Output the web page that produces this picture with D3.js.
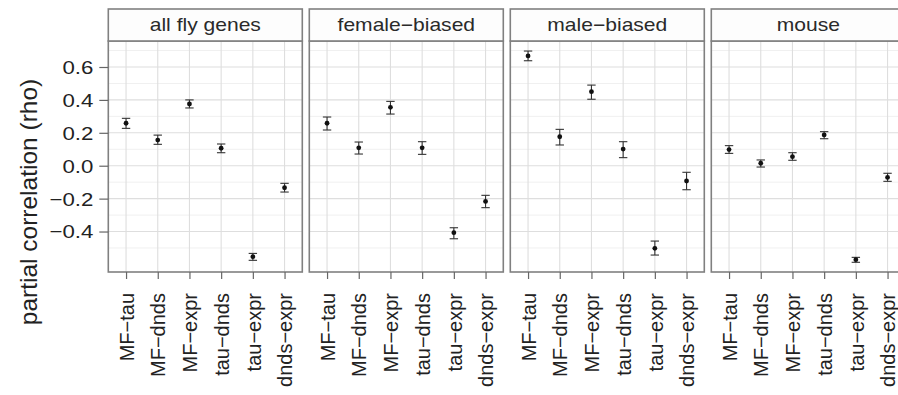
<!DOCTYPE html>
<meta charset="utf-8" />
<script src="https://d3js.org/d3.v7.min.js"></script>
<style>
  body { margin: 0; background: #fff; }
  text { font-family: "Liberation Sans", Arial, Helvetica, sans-serif; }
</style>
<body>
  <div id="my_dataviz"></div>
  <script>
    // facets and pairs
    const panels = ["all fly genes", "female\u2212biased", "male\u2212biased", "mouse"];
    const pairs = ["MF\u2212tau", "MF\u2212dnds", "MF\u2212expr", "tau\u2212dnds", "tau\u2212expr", "dnds\u2212expr"];

    // partial correlation (rho) with lower / upper bounds, one array per panel
    const allFlyRho = [0.258, 0.156, 0.375, 0.106, -0.553, -0.134];
    const allFlyLo = [0.227, 0.13, 0.351, 0.079, -0.575, -0.16];
    const allFlyHi = [0.288, 0.186, 0.4, 0.132, -0.533, -0.107];

    const femaleRho = [0.258, 0.109, 0.355, 0.109, -0.407, -0.217];
    const femaleLo = [0.217, 0.071, 0.314, 0.069, -0.444, -0.255];
    const femaleHi = [0.296, 0.144, 0.391, 0.146, -0.377, -0.18];

    const maleRho = [0.667, 0.176, 0.45, 0.101, -0.502, -0.093];
    const maleLo = [0.638, 0.126, 0.404, 0.049, -0.543, -0.146];
    const maleHi = [0.697, 0.221, 0.49, 0.146, -0.458, -0.04];

    const mouseRho = [0.098, 0.015, 0.055, 0.187, -0.571, -0.071];
    const mouseLo = [0.075, -0.008, 0.033, 0.164, -0.587, -0.095];
    const mouseHi = [0.122, 0.035, 0.079, 0.207, -0.557, -0.046];

    const yTicks = [-0.4, -0.2, 0.0, 0.2, 0.4, 0.6];
    const yMinor = [-0.5, -0.3, -0.1, 0.1, 0.3, 0.5, 0.7];

    const series = [
      [allFlyRho, allFlyLo, allFlyHi],
      [femaleRho, femaleLo, femaleHi],
      [maleRho, maleLo, maleHi],
      [mouseRho, mouseLo, mouseHi]
    ];

    var W = 898, H = 395;
    var panelLeft = 108.3, panelW = 194, panelStep = 201;
    var stripTop = 9, panelTop = 41, panelBottom = 272;
    var border = "#808080";
    var stretch = 1.17; // horizontal text in the reference is a bit wide

    var svg = d3.select("#my_dataviz").append("svg")
      .attr("width", W).attr("height", H);

    var y = d3.scaleLinear().domain([-0.646, 0.758]).range([panelBottom, panelTop]);

    panels.forEach(function (name, i) {
      var x0 = panelLeft + i * panelStep;
      var x = d3.scalePoint().domain(pairs).range([x0, x0 + panelW]).padding(0.56);
      var g = svg.append("g");
      var s = series[i];

      // panel background + grid
      g.append("rect").attr("x", x0).attr("y", panelTop)
        .attr("width", panelW).attr("height", panelBottom - panelTop).attr("fill", "#fff");
      g.selectAll(".minor").data(yMinor).enter().append("line")
        .attr("x1", x0).attr("x2", x0 + panelW)
        .attr("y1", d => y(d)).attr("y2", d => y(d))
        .attr("stroke", "#f0f0f0").attr("stroke-width", 1);
      g.selectAll(".major").data(yTicks).enter().append("line")
        .attr("x1", x0).attr("x2", x0 + panelW)
        .attr("y1", d => y(d)).attr("y2", d => y(d))
        .attr("stroke", "#dedede").attr("stroke-width", 1.1);
      g.selectAll(".vgrid").data(pairs).enter().append("line")
        .attr("x1", d => x(d)).attr("x2", d => x(d))
        .attr("y1", panelTop).attr("y2", panelBottom)
        .attr("stroke", "#dedede").attr("stroke-width", 1.1);

      // error bars
      var idx = d3.range(pairs.length);
      var bars = g.selectAll(".err").data(idx).enter().append("g").attr("stroke", "#333").attr("stroke-width", 1.1);
      bars.append("line")
        .attr("x1", d => x(pairs[d])).attr("x2", d => x(pairs[d]))
        .attr("y1", d => y(s[1][d])).attr("y2", d => y(s[2][d]));
      bars.append("line")
        .attr("x1", d => x(pairs[d]) - 4.2).attr("x2", d => x(pairs[d]) + 4.2)
        .attr("y1", d => y(s[1][d])).attr("y2", d => y(s[1][d]));
      bars.append("line")
        .attr("x1", d => x(pairs[d]) - 4.2).attr("x2", d => x(pairs[d]) + 4.2)
        .attr("y1", d => y(s[2][d])).attr("y2", d => y(s[2][d]));

      // points
      g.selectAll(".pt").data(idx).enter().append("circle")
        .attr("cx", d => x(pairs[d])).attr("cy", d => y(s[0][d]))
        .attr("r", 2.4).attr("fill", "#111");

      // panel border
      g.append("rect").attr("x", x0).attr("y", panelTop)
        .attr("width", panelW).attr("height", panelBottom - panelTop)
        .attr("fill", "none").attr("stroke", border).attr("stroke-width", 1.6);

      // strip
      g.append("rect").attr("x", x0).attr("y", stripTop)
        .attr("width", panelW).attr("height", panelTop - stripTop)
        .attr("fill", "#fdfdfd").attr("stroke", border).attr("stroke-width", 1.6);
      g.append("text")
        .attr("transform", "translate(" + (x0 + panelW / 2) + "," + 31 + ") scale(" + stretch + ",1)")
        .attr("text-anchor", "middle").attr("font-size", "18px").attr("fill", "#2a2a2a")
        .text(name);

      // x axis
      var ax = g.append("g").attr("transform", "translate(0," + panelBottom + ")")
        .call(d3.axisBottom(x).tickSize(7).tickPadding(0));
      ax.select(".domain").remove();
      ax.selectAll(".tick line").attr("stroke", "#666").attr("stroke-width", 1.2);
      ax.selectAll(".tick text")
        .attr("transform", "translate(0,21) rotate(-90)")
        .attr("x", 0).attr("y", 0).attr("dy", "0.36em")
        .style("text-anchor", "end")
        .attr("font-size", "20px").attr("fill", "#222")
        .attr("font-family", "'Liberation Sans', Arial, sans-serif");
    });

    // y axis
    var ay = svg.append("g").attr("transform", "translate(" + panelLeft + ",0)")
      .call(d3.axisLeft(y).tickValues(yTicks).tickSize(9).tickPadding(0)
        .tickFormat(d3.format(".1f")));
    ay.select(".domain").remove();
    ay.selectAll(".tick line").attr("stroke", "#666").attr("stroke-width", 1.2);
    ay.selectAll(".tick text")
      .attr("x", 0).attr("dy", "0.34em")
      .attr("transform", "translate(-15,0) scale(" + stretch + ",1)")
      .attr("font-size", "19px").attr("fill", "#222")
      .attr("font-family", "'Liberation Sans', Arial, sans-serif")
      .text(d => d3.format(".1f")(d).replace("-", "\u2212"));

    // y title
    svg.append("text")
      .attr("transform", "translate(37,202) rotate(-90)")
      .attr("text-anchor", "middle")
      .attr("font-size", "24.5px").attr("fill", "#222")
      .text("partial correlation (rho)");
  </script>
</body>
